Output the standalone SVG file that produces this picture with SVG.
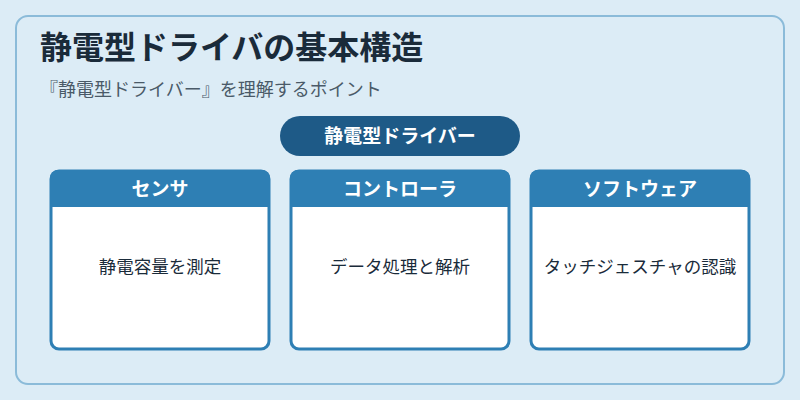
<svg xmlns="http://www.w3.org/2000/svg" width="800" height="400" viewBox="0 0 800 400">
<style>
text{font-family:"Noto Sans CJK JP","Noto Sans",sans-serif}
.card{fill:#fff;stroke:#2e7fb4;stroke-width:3}
.hd{fill:#2e7fb4}
.ht{fill:#fff;font-size:19px;font-weight:bold;text-anchor:middle}
.bt{fill:#1a2b3a;font-size:17.5px;text-anchor:middle}
</style>
<rect width="800" height="400" fill="#dcecf6"/>
<rect x="16" y="16" width="768" height="368" rx="12" fill="#dcecf6" stroke="#8bbbd9" stroke-width="2"/>
<text x="40" y="59" font-size="32" font-weight="bold" fill="#1a2b3a">静電型ドライバの基本構造</text>
<text x="40" y="96" font-size="18" fill="#4a5a68">『静電型ドライバー』を理解するポイント</text>
<g id="top"><rect x="280" y="116" width="240" height="40" rx="20" fill="#1e5a87"/><text x="400" y="143" class="ht">静電型ドライバー</text></g>
<g id="sensor"><rect class="card" x="51" y="171" width="218" height="178" rx="8"/><path class="hd" d="M50 207V178a8 8 0 0 1 8-8h204a8 8 0 0 1 8 8v29z"/><text class="ht" x="160" y="196">センサ</text><text class="bt" x="160" y="273">静電容量を測定</text></g>
<g id="controller"><rect class="card" x="291" y="171" width="218" height="178" rx="8"/><path class="hd" d="M290 207V178a8 8 0 0 1 8-8h204a8 8 0 0 1 8 8v29z"/><text class="ht" x="400" y="196">コントローラ</text><text class="bt" x="400" y="273">データ処理と解析</text></g>
<g id="software"><rect class="card" x="531" y="171" width="218" height="178" rx="8"/><path class="hd" d="M530 207V178a8 8 0 0 1 8-8h204a8 8 0 0 1 8 8v29z"/><text class="ht" x="640" y="196">ソフトウェア</text><text class="bt" x="640" y="273">タッチジェスチャの認識</text></g>
<g id="connectors"/>
</svg>
